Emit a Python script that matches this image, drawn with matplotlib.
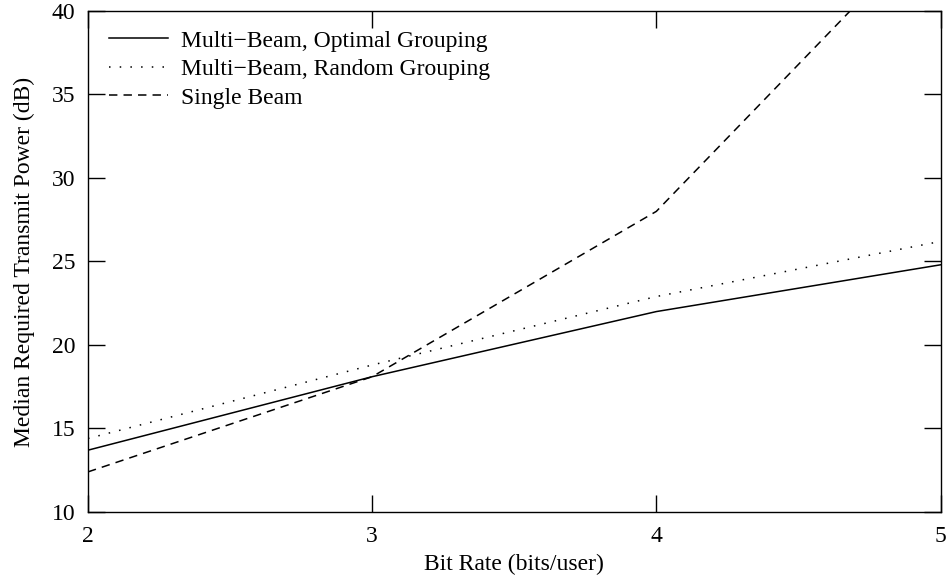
import numpy as np
import matplotlib.pyplot as plt

plt.rcParams['font.family'] = ['Liberation Serif', 'DejaVu Serif']
plt.rcParams['font.size'] = 17

# bit rate (bits/user) and median required transmit power (dB)
bit_rate = [2, 3, 4, 5]
optimal_grouping = [13.7, 18.1, 22.0, 24.8]
random_grouping = [14.4, 18.8, 22.9, 26.2]
single_beam = [12.4, 18.1, 28.0, 45.6]

fig = plt.figure(figsize=(9.51, 5.77), dpi=100)
ax = fig.add_axes([0.0925, 0.1127, 0.8965, 0.8683])

ax.plot(bit_rate, optimal_grouping, color='black', lw=1.1, linestyle='-',
        label='Multi\u2212Beam, Optimal Grouping')
ax.plot(bit_rate, random_grouping, color='black', lw=1.1, linestyle=(0, (1, 6)),
        label='Multi\u2212Beam, Random Grouping')
ax.plot(bit_rate, single_beam, color='black', lw=1.1, linestyle=(0, (5.5, 4)),
        label='Single Beam')

ax.set_xlim(2, 5)
ax.set_ylim(10, 40)
ax.set_xticks([2, 3, 4, 5])
ax.set_yticks([10, 15, 20, 25, 30, 35, 40])
ax.tick_params(direction='in', length=12, width=1, top=True, right=True)
ax.tick_params(axis='x', pad=10)
ax.tick_params(axis='y', pad=9)
for s in ax.spines.values():
    s.set_linewidth(1)

ax.set_xlabel('Bit Rate (bits/user)', labelpad=5)
ax.set_ylabel('Median Required Transmit Power (dB)', labelpad=12)

ax.legend(loc='upper left', frameon=False, handlelength=2.5, handletextpad=0.55,
          labelspacing=0.3, borderaxespad=0.3, bbox_to_anchor=(0.005, 0.995))

fig.savefig('out.png', dpi=100)
